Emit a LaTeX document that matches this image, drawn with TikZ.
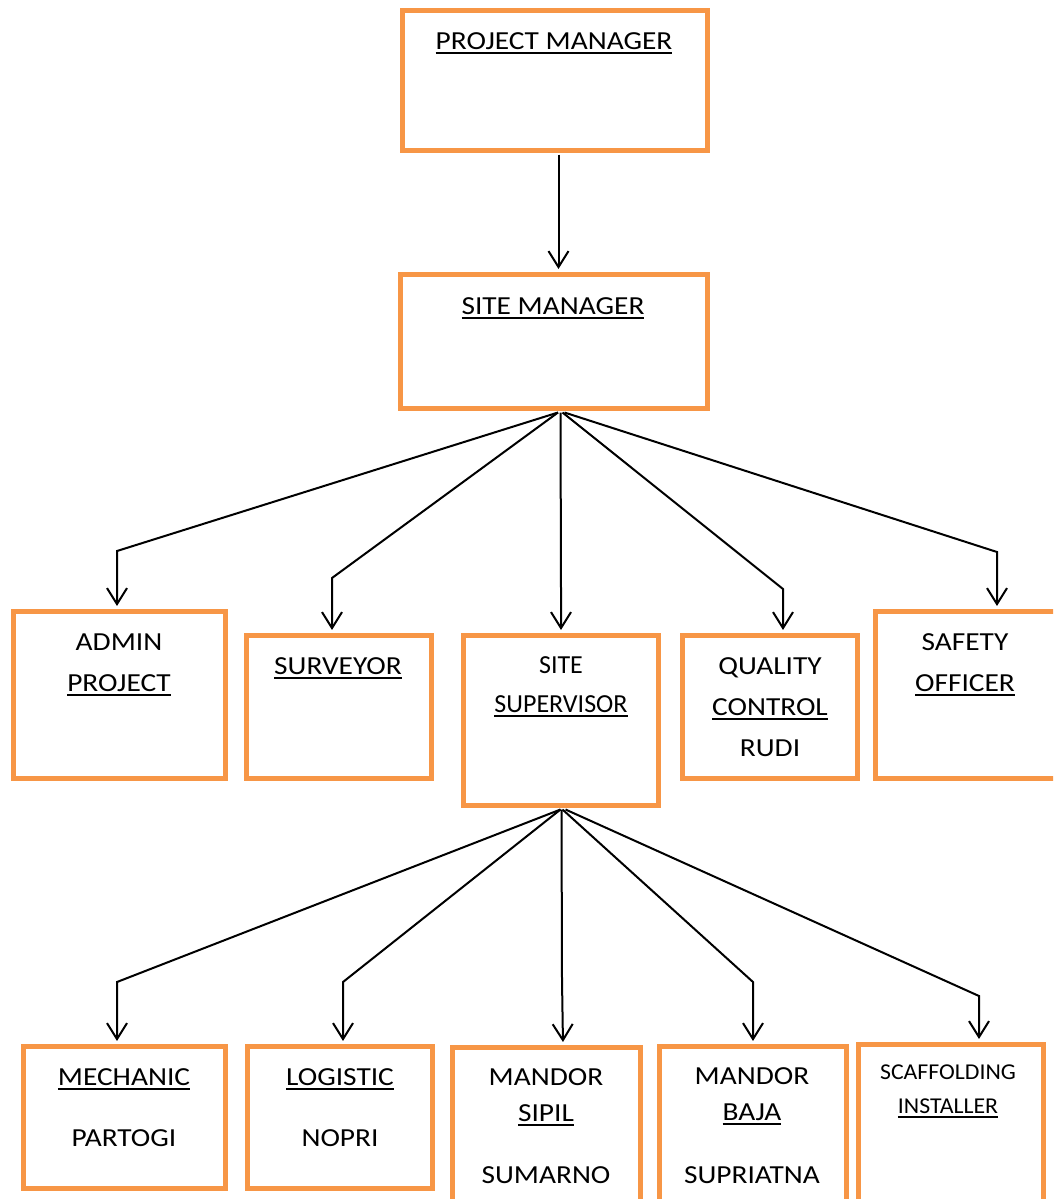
\documentclass[tikz,border=0pt]{standalone}
\usepackage{fontspec}
\setmainfont{Carlito}[FakeStretch=1.13]
\newfontfamily\plainfont{Carlito}
\newfontfamily\scafont{Carlito}[FakeStretch=1.05]
\usetikzlibrary{arrows.meta,fit}
\definecolor{boxorange}{HTML}{F79646}
\newcommand\ulw[1]{\setbox0\hbox{#1}\rlap{\rule[-4pt]{\wd0}{1.4pt}}\box0}
\tikzset{
  box/.style={draw=boxorange, line width=3.75pt, inner sep=0pt, fill=white},
  lbl/.style={anchor=base, inner sep=0pt, font=\fontsize{19.5}{23}\selectfont},
  lblp/.style={anchor=base, inner sep=0pt, font=\plainfont\fontsize{19.5}{23}\selectfont},
  lbls/.style={anchor=base, inner sep=0pt, font=\scafont\fontsize{17}{20}\selectfont},
  arr/.style={line width=1.5pt, -{Straight Barb[length=12pt,width=15pt]}, shorten >=1.9pt},
}
\begin{document}
\begin{tikzpicture}[x=0.75pt,y=-0.75pt]
\useasboundingbox (0,0) rectangle (1053,1199);
\clip (0,0) rectangle (1053,1199);
% boxes
\node[box, fit={(402,10)(707,150)}] (pm) {};
\node[box, fit={(400,274)(707,408)}] (sm) {};
\node[box, fit={(13,611)(225,778)}] (adm) {};
\node[box, fit={(246,635)(431,778)}] (sur) {};
\node[box, fit={(463,635)(658,805)}] (ss) {};
\node[box, fit={(682,635)(857,778)}] (qc) {};
\node[box, fit={(875,611)(1060,778)}] (saf) {};
\node[box, fit={(23,1046)(225,1188)}] (mec) {};
\node[box, fit={(247,1046)(432,1188)}] (log) {};
\node[box, fit={(452,1047)(640,1215)}] (sip) {};
\node[box, fit={(659,1046)(846,1215)}] (baj) {};
\node[box, fit={(858,1044)(1043,1215)}] (sca) {};
% texts
\node[lbl] (pmt) at (554,49) {\ulw{PROJECT MANAGER}};
\node[lbl] (smt) at (553,314) {\ulw{SITE MANAGER}};
\node[lbl] (admt1) at (119,650) {ADMIN};
\node[lbl] (admt2) at (119,691) {\ulw{PROJECT}};
\node[lbl] (surt) at (338,674) {\ulw{SURVEYOR}};
\node[lblp] (sst1) at (561,673) {SITE};
\node[lblp] (sst2) at (561,712) {\ulw{SUPERVISOR}};
\node[lbl] (qct1) at (770,674) {QUALITY};
\node[lbl] (qct2) at (770,715) {\ulw{CONTROL}};
\node[lbl] (qct3) at (770,756) {RUDI};
\node[lbl] (saft1) at (965,650) {SAFETY};
\node[lbl] (saft2) at (965,691) {\ulw{OFFICER}};
\node[lbl] (mect1) at (124,1085) {\ulw{MECHANIC}};
\node[lbl] (mect2) at (124,1146) {PARTOGI};
\node[lbl] (logt1) at (340,1085) {\ulw{LOGISTIC}};
\node[lbl] (logt2) at (340,1146) {NOPRI};
\node[lbl] (sipt1) at (546,1085) {MANDOR};
\node[lbl] (sipt2) at (546,1121) {\ulw{SIPIL}};
\node[lbl] (sipt3) at (546,1183) {SUMARNO};
\node[lbl] (bajt1) at (752,1084) {MANDOR};
\node[lbl] (bajt2) at (752,1120) {\ulw{BAJA}};
\node[lbl] (bajt3) at (752,1183) {SUPRIATNA};
\node[lbls] (scat1) at (948,1079) {SCAFFOLDING};
\node[lbls] (scat2) at (948,1113) {\ulw{INSTALLER}};
% bend points
\coordinate (b1) at (117,551);
\coordinate (b2) at (332,578);
\coordinate (b3) at (561,590);
\coordinate (b4) at (783,589);
\coordinate (b5) at (997,552);
\coordinate (c1) at (117,982);
\coordinate (c2) at (343,982);
\coordinate (c3) at (562,980);
\coordinate (c4) at (753,982);
\coordinate (c5) at (979,996);
% connectors
\draw[arr] ([shift={(4,2)}]pm.south) -- ([shift={(4,0)}]pm.south |- sm.north);
\draw[arr] ([shift={(4.5,2)}]sm.south) -- (b1) -- (b1 |- adm.north);
\draw[arr] ([shift={(4.5,2)}]sm.south) -- (b2) -- (b2 |- sur.north);
\draw[arr] ([shift={(7,2)}]sm.south) -- (b3) -- (b3 |- ss.north);
\draw[arr] ([shift={(9,2)}]sm.south) -- (b4) -- (b4 |- qc.north);
\draw[arr] ([shift={(11,2)}]sm.south) -- (b5) -- (b5 |- saf.north);
\draw[arr] ([shift={(0,2)}]ss.south) -- (c1) -- (c1 |- mec.north);
\draw[arr] ([shift={(0,2)}]ss.south) -- (c2) -- (c2 |- log.north);
\draw[arr] ([shift={(1,2)}]ss.south) -- (c3) -- ([shift={(1,0)}]c3 |- sip.north);
\draw[arr] ([shift={(2,2)}]ss.south) -- (c4) -- (c4 |- baj.north);
\draw[arr] ([shift={(5,2)}]ss.south) -- (c5) -- (c5 |- sca.north);
\end{tikzpicture}
\end{document}
